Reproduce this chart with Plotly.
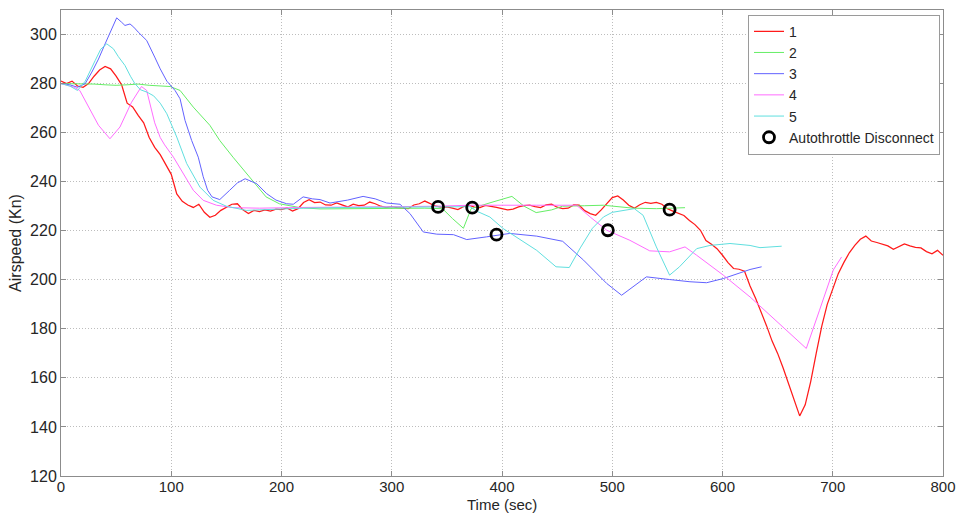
import plotly.graph_objects as go

# ---------------- data ----------------
t1 = list(range(0, 805, 5))
v1 = [281, 280, 281, 279, 278.5, 280, 283, 285.5, 287, 286,
      283, 279.5, 272, 270.5, 267, 264, 258, 254, 251, 247,
      243, 235, 232, 230.5, 229.5, 230.8, 227.5, 225.5, 226.3, 228.3,
      229.5, 230.8, 231, 228.5, 227, 228.3, 227.8, 228.5, 228, 228.8,
      228.6, 229.3, 228, 229, 231.5, 232.7, 231.5, 231.7, 230.5, 230.4,
      231.3, 230.5, 229.7, 230.8, 230.2, 230.4, 231.7, 231, 230, 229.4,
      229.8, 229.4, 229.2, 229, 230.5, 231, 232.1, 231, 230, 229.6,
      229.7, 229.2, 228.6, 229.8, 230.4, 229.6, 229.4, 230.3, 230, 229.5,
      229, 228.5, 228.8, 229.7, 230.2, 230.4, 229.8, 229.4, 230.5, 230.8,
      229.6, 229, 229.2, 230.5, 230.4, 228.2, 227, 226.3, 228.5, 231,
      233.5, 234.2, 232.5, 230.4, 229.2, 230.6, 231.6, 231.2, 231.6, 230.8,
      229, 228, 227.2, 226.2, 224.2, 222.5, 220.2, 216, 214.5, 212.7,
      210, 207, 204.6, 204.3, 203.5, 197.5, 192.5, 187, 181.2, 175,
      170, 164, 157.5, 151.5, 144.5, 149, 158.5, 170, 181, 190,
      196.5, 202.5, 207, 211, 214, 216.5, 217.8, 215.8, 215.2, 214.6,
      213.8, 212.4, 213.6, 214.6, 213.8, 213.2, 213, 211.5, 210.6, 212,
      210]

t2 = [0, 10, 20, 30, 40, 50, 60, 70, 80, 90, 99, 108, 120, 135, 144, 156, 174, 186, 198, 217,
      235, 260, 300, 330, 346, 355, 365, 372, 390, 409, 420, 431, 445, 455, 475, 492, 519, 540, 566]
v2 = [280, 280, 280, 279.8, 279.5, 279.3, 279.5, 279.8, 279.3, 279, 278.8, 277.2, 270.4, 263, 256.8,
      250, 240, 233.8, 231, 229.4, 228.9, 229, 229, 229.2, 229, 225, 221, 229, 231.5, 234, 230,
      227.4, 228.5, 230, 230.2, 230.4, 229.2, 229, 229.4]

t3 = [0, 8, 15, 22, 28, 34, 40, 45, 50.5, 55, 58, 62.6, 66, 70, 77.7, 85, 90, 96, 100, 103.4,
      108, 112.5, 118.5, 124.5, 129, 133, 137, 144, 153, 160, 167, 177.5, 186.6, 195, 204.7,
      210.7, 219.6, 228, 235, 244, 260, 274, 285, 295.4, 307.5, 316.5, 328.6, 340.8, 356, 368,
      386, 407, 431.5, 455, 474, 495, 508.5, 520, 531, 552, 570.5, 585.6, 600.7, 625, 635.5]
v3 = [280, 279.5, 278.5, 280, 284.7, 290, 296.2, 301, 306.8, 305, 303.7, 304.3, 303, 301, 297.6,
      290.8, 286, 281, 279, 277.2, 273.8, 265, 256.8, 250, 242, 236.5, 233.8, 232.7, 236.5, 239.5,
      241.2, 239.2, 235.1, 232.5, 231, 230.8, 233.8, 233, 232.7, 231.3, 232.5, 234, 233, 231.3,
      230.8, 227, 219.5, 218.6, 218.4, 216.4, 217.5, 218.9, 217.8, 215.7, 208, 198.5, 193.7,
      197.5, 201.2, 200.1, 199.2, 198.8, 200.5, 204.2, 205.3]

t4 = [0, 8, 12, 17, 24.8, 34, 44.4, 53.5, 64, 73, 77.7, 85, 90, 94, 102, 111, 120, 129, 141, 156,
      180, 220, 260, 300, 340, 371, 431.5, 467.7, 480, 495, 516, 534, 552, 566, 576.6, 600.7,
      625, 676, 688, 700.5, 708]
v4 = [280, 279, 278.5, 277.2, 270.4, 263, 257.5, 262.3, 272.4, 278.8, 277.2, 264, 258, 255, 250,
      243.3, 236.5, 232.4, 230.4, 229.4, 229.2, 229.5, 229.8, 229.8, 230, 230.4, 230.4, 230.4,
      225.6, 220.2, 216.1, 211.8, 211.4, 213.4, 210, 201.9, 193, 172, 187.6, 204, 209.3]

t5 = [0, 8, 15, 22, 31, 36, 41.5, 47.5, 52, 58, 63, 67, 72, 78, 84, 90, 96, 105, 114, 126, 138,
      150, 168, 190, 220, 260, 300, 340, 365, 371, 377, 389, 401, 431.5, 449, 461, 471, 482,
      492, 500, 520, 528, 540, 552, 561, 576.6, 588.6, 606.8, 625, 634, 653.7]
v5 = [280, 279, 277.2, 281, 289.4, 294, 296.2, 294.2, 291, 287.4, 283, 280, 277.5, 276.5, 275,
      272, 267.7, 258.2, 247.4, 237.8, 232.4, 230, 228.3, 228.8, 229.2, 229.5, 229.5, 229.8,
      229.8, 229.8, 228, 225.6, 220.9, 212, 205.3, 205, 213, 221, 225.6, 227.5, 229, 226.3,
      213.4, 201.9, 205.3, 212.7, 214, 214.8, 214, 213.1, 213.7]

at_t = [342, 373, 395, 496, 552]
at_v = [229.7, 229.4, 218.4, 220.2, 228.6]

names = ["1", "2", "3", "4", "5"]
colors = ["#ff1a1a", "#66ee66", "#6262ff", "#ff6cff", "#60dfdf"]
series = [(t1, v1), (t2, v2), (t3, v3), (t4, v4), (t5, v5)]

# ---------------- figure ----------------
FONT = "Liberation Sans, Arial, Helvetica, sans-serif"
fig = go.Figure()
for (tx, vy), nm, col in zip(series, names, colors):
    fig.add_trace(go.Scatter(x=tx, y=vy, mode="lines", name=nm,
                             line=dict(color=col, width=1.25 if nm == "1" else 1)))
fig.add_trace(go.Scatter(x=at_t, y=at_v, mode="markers", name="Autothrottle Disconnect",
                         marker=dict(symbol="circle-open", size=11, color="black",
                                     line=dict(width=2.8, color="black"))))

axis_common = dict(showline=True, linecolor="#8c8c8c", linewidth=1, mirror="ticks",
                   ticks="inside", ticklen=5, tickcolor="#8c8c8c",
                   showgrid=True, gridcolor="#bdbdbd", griddash="1px,2px", gridwidth=1,
                   zeroline=False)

fig.update_xaxes(range=[0, 800], dtick=100, tick0=0, ticklabelstandoff=-3,
                 tickfont=dict(size=15, color="#262626", family=FONT), **axis_common)
fig.update_yaxes(range=[120, 310], dtick=20, tick0=120,
                 tickfont=dict(size=16, color="#262626", family=FONT),
                 title=dict(text="Airspeed (Kn)", font=dict(size=16, color="#262626", family=FONT),
                            standoff=4),
                 **axis_common)

fig.add_annotation(text="Time (sec)", xref="paper", yref="paper", x=0.5, y=-0.0615,
                   xanchor="center", yanchor="middle", showarrow=False,
                   font=dict(size=15, color="#262626", family=FONT))

fig.update_layout(
    width=958, height=513,
    margin=dict(l=61, r=15, t=10, b=37, autoexpand=False),
    paper_bgcolor="white", plot_bgcolor="white",
    font=dict(family=FONT, size=16, color="#262626"),
    showlegend=True,
    legend=dict(x=0.9966, y=0.99, xanchor="right", yanchor="top",
                bgcolor="white", bordercolor="#9a9a9a", borderwidth=1,
                font=dict(size=14, color="#262626", family=FONT),
                tracegroupgap=0, itemwidth=30),
)

fig.write_html("out.html")
